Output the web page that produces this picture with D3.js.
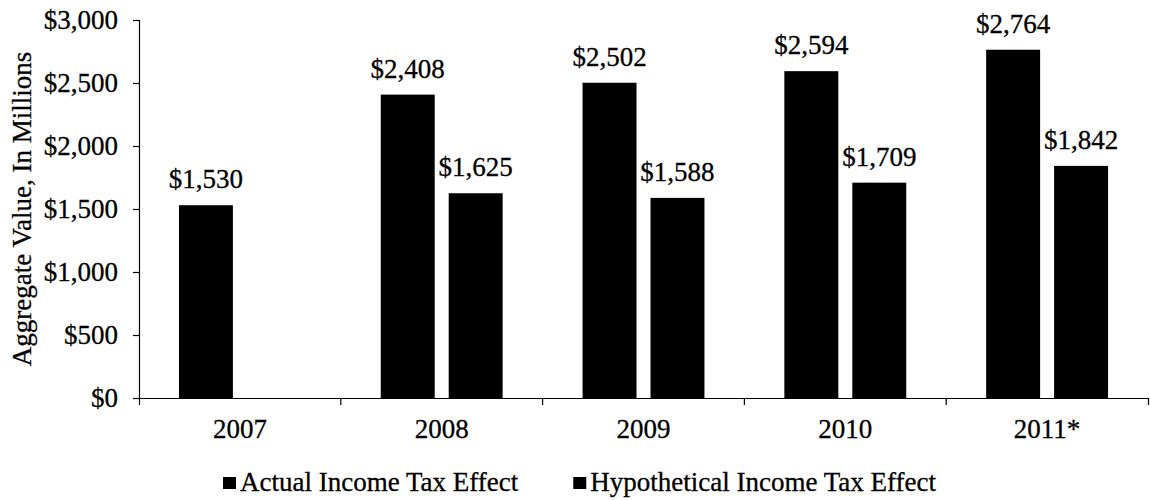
<!DOCTYPE html>
<html>
<head>
<meta charset="utf-8">
<script src="https://cdn.jsdelivr.net/npm/d3@7"></script>
<style>
  html, body { margin: 0; padding: 0; background: #fff; }
  svg { display: block; }
  svg text { stroke: #000; stroke-width: 0.3px; }
</style>
</head>
<body>
<svg id="chart" width="1150" height="500"></svg>
<script>
// Years on the category axis
const years = ["2007", "2008", "2009", "2010", "2011*"];
// Series names
const seriesNames = ["Actual Income Tax Effect", "Hypothetical Income Tax Effect"];
// Aggregate values, in millions of dollars (null = no bar)
const actualValues = [1530, 2408, 2502, 2594, 2764];
const hypotheticalValues = [null, 1625, 1588, 1709, 1842];
// Value-axis ticks
const yTicks = [0, 500, 1000, 1500, 2000, 2500, 3000];

const seriesValues = [actualValues, hypotheticalValues];

const serif = "'Liberation Serif', 'Times New Roman', Times, 'DejaVu Serif', serif";
const svg = d3.select("#chart").attr("font-family", serif);
const plot = { left: 139, right: 1148, top: 20, bottom: 398 };
const fontSize = 27;

const x0 = d3.scaleBand().domain(years).range([plot.left, plot.right]).padding(0);
const x1 = d3.scaleBand().domain(seriesNames).range([0, x0.bandwidth()])
  .paddingInner(0.206).paddingOuter(0.588);
const y = d3.scaleLinear().domain([0, 3000]).range([plot.bottom, plot.top]);

const fmt = v => "$" + d3.format(",")(v);

// Bars
const rows = years.map((yr, i) => ({
  year: yr,
  vals: seriesNames.map((s, k) => ({ series: s, value: seriesValues[k][i] }))
    .filter(d => d.value != null)
}));

const groups = svg.append("g").selectAll("g").data(rows).join("g")
  .attr("transform", d => `translate(${x0(d.year)},0)`);

groups.selectAll("rect").data(d => d.vals).join("rect")
  .attr("x", d => x1(d.series))
  .attr("width", x1.bandwidth())
  .attr("y", d => y(d.value))
  .attr("height", d => y(0) - y(d.value))
  .attr("fill", "#000");

groups.selectAll("text.val").data(d => d.vals).join("text")
  .attr("class", "val")
  .attr("x", d => x1(d.series) + x1.bandwidth() / 2)
  .attr("y", d => y(d.value) - 17)
  .attr("text-anchor", "middle")
  .attr("font-family", serif)
  .attr("font-size", fontSize)
  .attr("fill", "#000")
  .text(d => fmt(d.value));

// Value axis
const yAxis = svg.append("g")
  .attr("transform", `translate(${plot.left},0)`)
  .call(d3.axisLeft(y).tickValues(yTicks).tickFormat(fmt)
    .tickSize(6).tickSizeOuter(6).tickPadding(15));
yAxis.attr("font-family", serif).attr("font-size", fontSize);
yAxis.selectAll("text").attr("fill", "#000");
yAxis.selectAll("path, line").attr("stroke", "#000").attr("stroke-width", 1.2);

// Category axis: labels centred in each band, ticks on band boundaries
const xAxis = svg.append("g")
  .attr("transform", `translate(0,${plot.bottom})`)
  .call(d3.axisBottom(x0).tickSize(0).tickSizeOuter(7).tickPadding(21));
xAxis.attr("font-family", serif).attr("font-size", fontSize);
xAxis.selectAll("text").attr("fill", "#000");
xAxis.select(".domain").attr("stroke", "#000").attr("stroke-width", 1.2);
xAxis.selectAll(".boundary").data(years.slice(1)).join("line")
  .attr("class", "boundary")
  .attr("x1", d => x0(d)).attr("x2", d => x0(d))
  .attr("y1", 0).attr("y2", 7)
  .attr("stroke", "#000").attr("stroke-width", 1.2);

// Axis title
svg.append("text")
  .attr("transform", `translate(31,${(plot.top + plot.bottom) / 2}) rotate(-90)`)
  .attr("text-anchor", "middle")
  .attr("font-family", serif)
  .attr("font-size", fontSize)
  .attr("fill", "#000")
  .text("Aggregate Value, In Millions");

// Legend
const legend = svg.append("g").attr("transform", "translate(223,491)");
let lx = 0;
seriesNames.forEach(name => {
  const item = legend.append("g").attr("transform", `translate(${lx},0)`);
  item.append("rect").attr("x", 0).attr("y", -14).attr("width", 13).attr("height", 12).attr("fill", "#000");
  const t = item.append("text").attr("x", 17).attr("y", 0)
    .attr("font-family", serif).attr("font-size", 27).attr("fill", "#000")
    .text(name);
  lx += 17 + t.node().getComputedTextLength() + 55;
});
</script>
</body>
</html>
